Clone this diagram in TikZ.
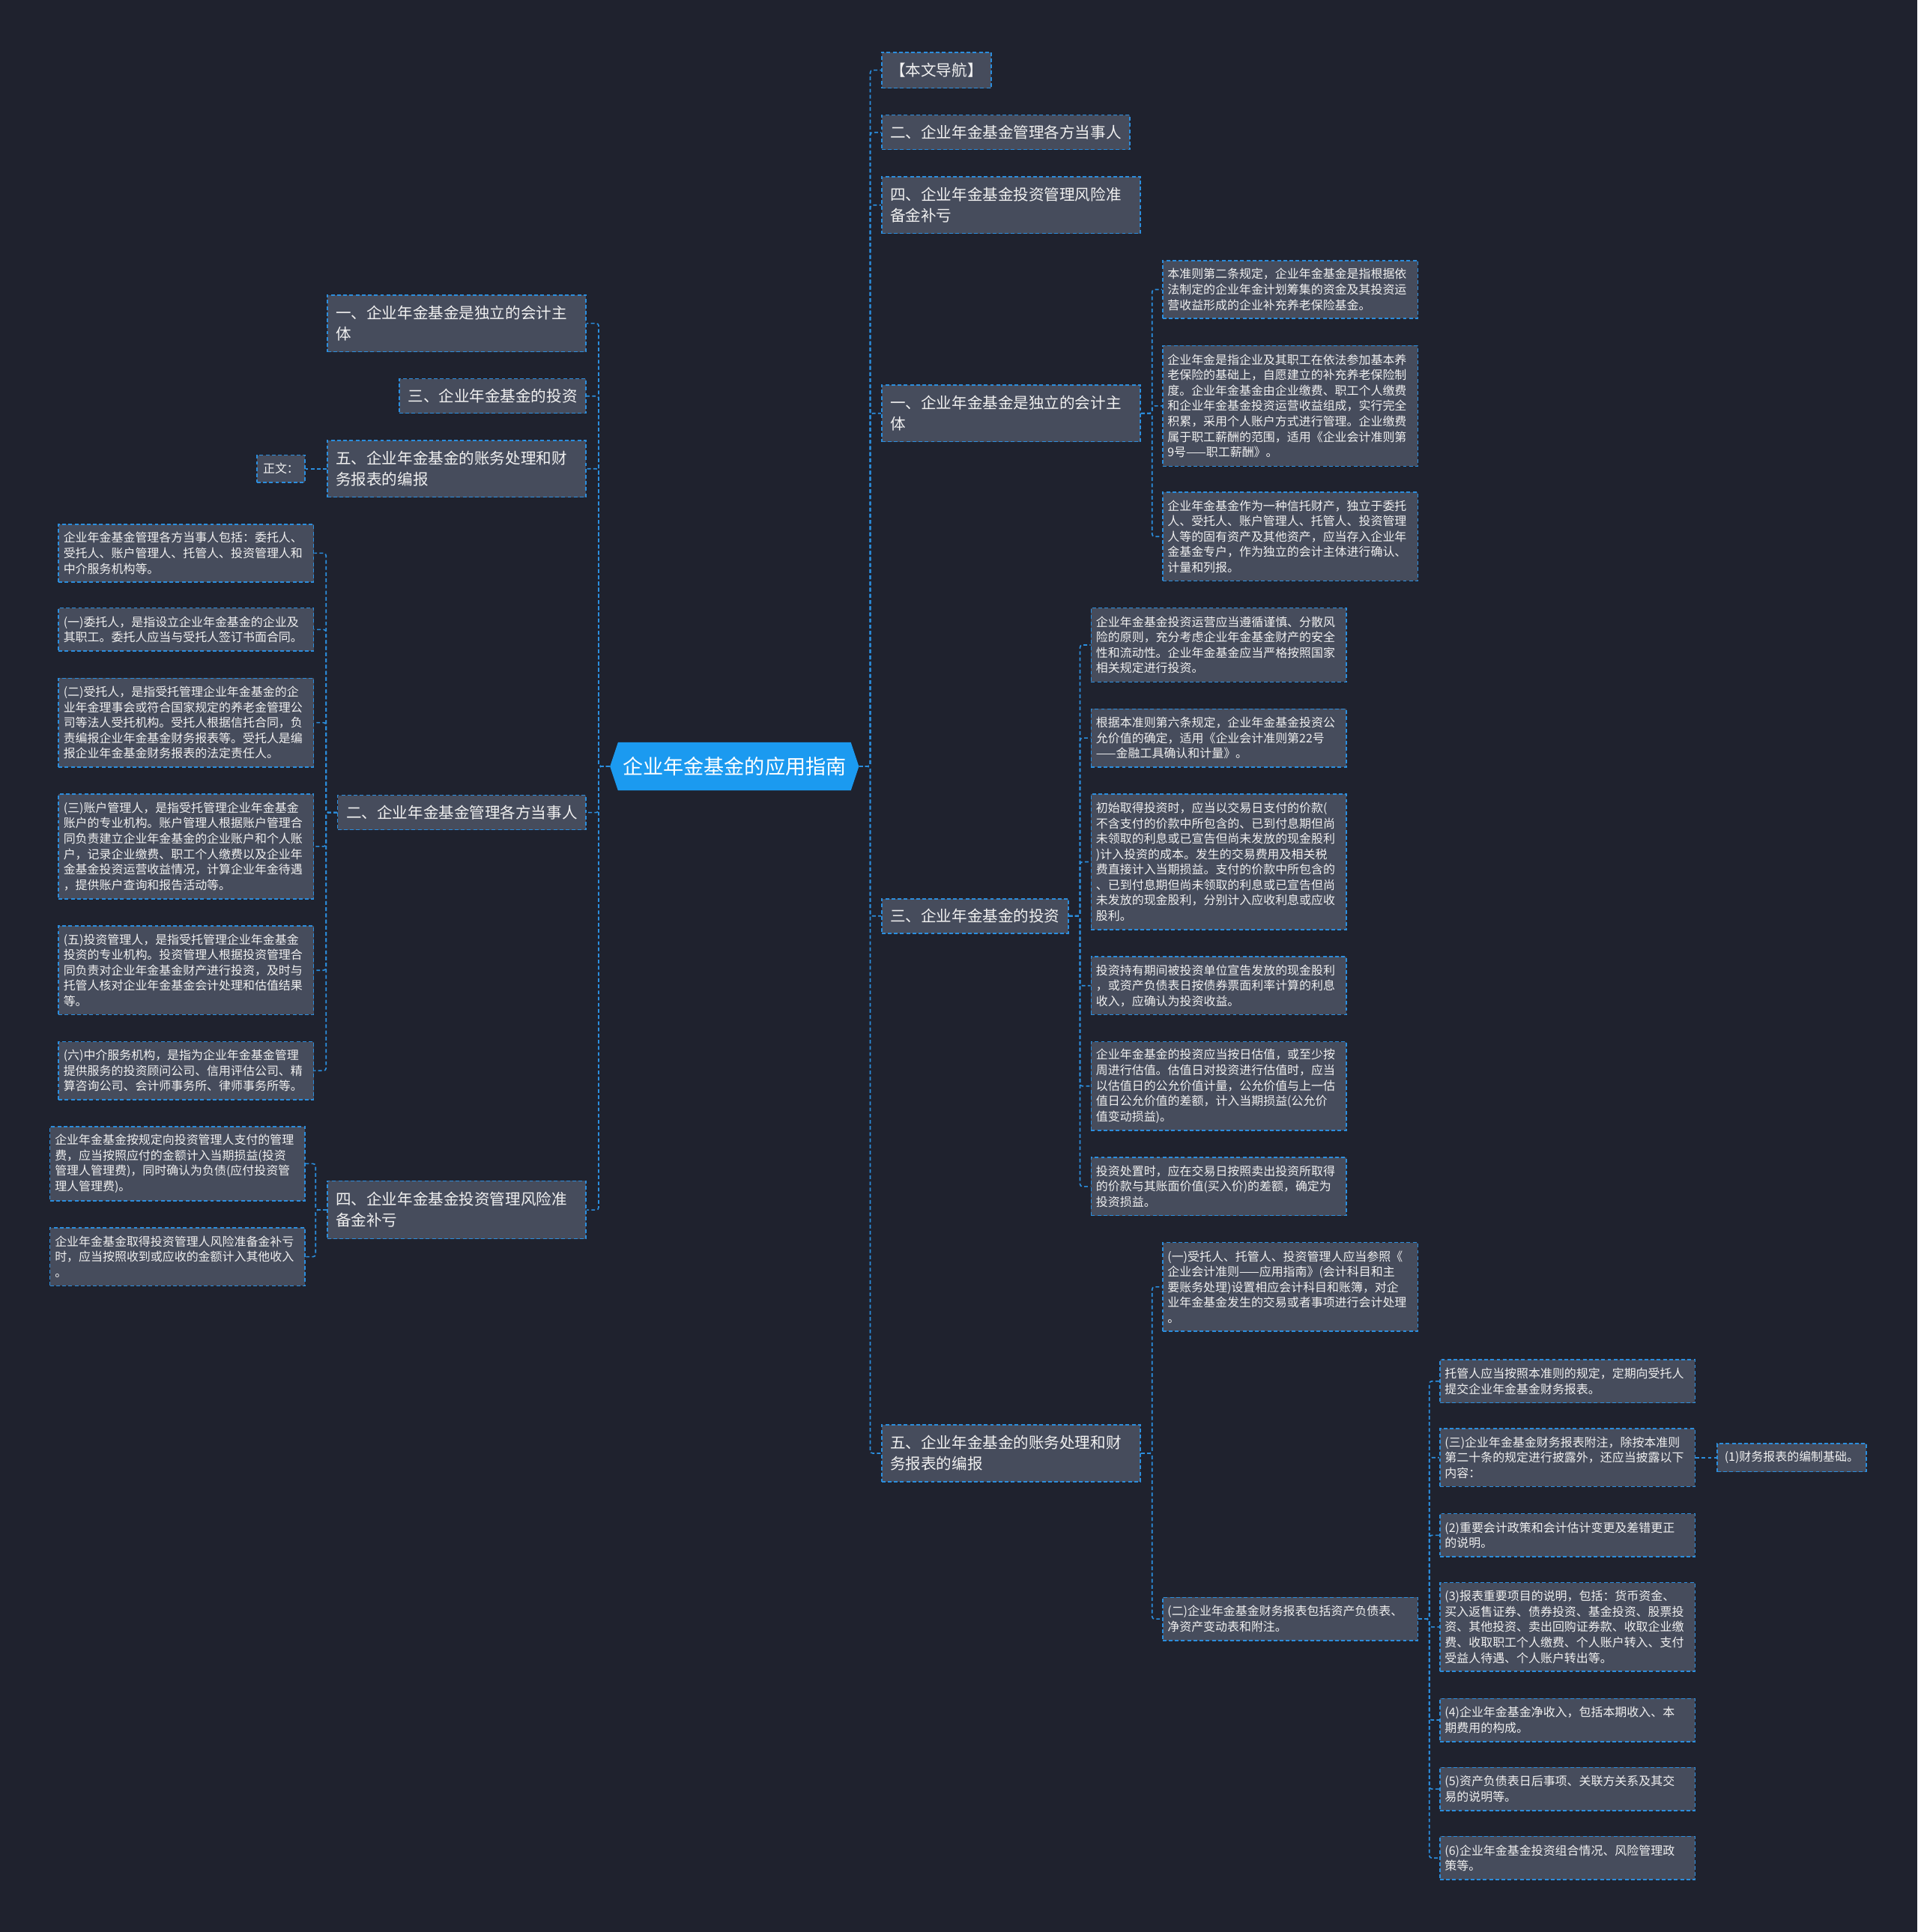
\documentclass[tikz,border=0pt]{standalone}
\usepackage{fontspec}
\setmainfont{Noto Sans CJK SC}
\setlength{\parindent}{0pt}
\definecolor{bgc}{RGB}{31,34,46}
\definecolor{nodef}{RGB}{70,76,92}
\definecolor{lineb}{RGB}{43,142,222}
\definecolor{cblue}{RGB}{27,154,240}
\definecolor{txt}{RGB}{240,240,240}
\begin{document}
\begin{tikzpicture}[x=1pt,y=-1pt,
  box/.style={draw=lineb, dash pattern=on 3pt off 2pt, line width=0.9pt, fill=nodef, text=txt, inner ysep=3pt},
  lone/.style={box, font=\fontsize{12.5}{17}\selectfont, inner xsep=7pt},
  ltwo/.style={box, font=\fontsize{12.5}{17}\selectfont, inner xsep=7pt, text width=196pt, align=left, minimum height=46pt},
  det/.style={box, font=\fontsize{9.7}{12.5}\selectfont, inner xsep=4pt, text width=199pt, align=left},
  dsingle/.style={box, font=\fontsize{9.7}{12.5}\selectfont, inner xsep=5pt},
  mh/.style={minimum height=#1},
  ctext/.style={text=white, font=\fontsize{16.5}{20}\selectfont, inner sep=0pt},
  conn/.style={draw=lineb, line width=1pt, dash pattern=on 3pt off 2pt, rounded corners=2pt}
]
\useasboundingbox (0,0) rectangle (1556,1568);
\fill[bgc] (0,0) rectangle (1556,1568);

% center
\coordinate (cc) at (596,622);
\fill[cblue] ([shift={(-101,0)}]cc) -- ([shift={(-94.5,-19.5)}]cc) -- ([shift={(94.5,-19.5)}]cc) -- ([shift={(101,0)}]cc) -- ([shift={(94.5,19.5)}]cc) -- ([shift={(-94.5,19.5)}]cc) -- cycle;
\node[ctext, minimum width=202pt, minimum height=39pt] (c) at (cc) {企业年金基金的应用指南};

% right level 1
\node[lone, anchor=north west, mh=29pt] (r0) at (715,42) {【本文导航】};
\node[lone, anchor=north west, mh=28pt] (r1) at (715,93) {二、企业年金基金管理各方当事人};
\node[ltwo, anchor=north west] (r2) at (715,143) {四、企业年金基金投资管理风险准\\备金补亏};
\node[ltwo, anchor=north west] (r3) at (715,312) {一、企业年金基金是独立的会计主\\体};
\node[lone, anchor=north west, mh=28pt] (r4) at (715,729) {三、企业年金基金的投资};
\node[ltwo, anchor=north west] (r5) at (715,1156) {五、企业年金基金的账务处理和财\\务报表的编报};

% r3 children
\node[det, anchor=north west, mh=47pt] (r3a) at (943,211) {本准则第二条规定，企业年金基金是指根据依\\法制定的企业年金计划筹集的资金及其投资运\\营收益形成的企业补充养老保险基金。};
\node[det, anchor=north west, mh=98pt] (r3b) at (943,280) {企业年金是指企业及其职工在依法参加基本养\\老保险的基础上，自愿建立的补充养老保险制\\度。企业年金基金由企业缴费、职工个人缴费\\和企业年金基金投资运营收益组成，实行完全\\积累，采用个人账户方式进行管理。企业缴费\\属于职工薪酬的范围，适用《企业会计准则第\\9号——职工薪酬》。};
\node[det, anchor=north west, mh=72pt] (r3c) at (943,399) {企业年金基金作为一种信托财产，独立于委托\\人、受托人、账户管理人、托管人、投资管理\\人等的固有资产及其他资产，应当存入企业年\\金基金专户，作为独立的会计主体进行确认、\\计量和列报。};

% r4 children
\node[det, anchor=north west, mh=60pt] (r4a) at (885,493) {企业年金基金投资运营应当遵循谨慎、分散风\\险的原则，充分考虑企业年金基金财产的安全\\性和流动性。企业年金基金应当严格按照国家\\相关规定进行投资。};
\node[det, anchor=north west, mh=47pt] (r4b) at (885,575) {根据本准则第六条规定，企业年金基金投资公\\允价值的确定，适用《企业会计准则第22号\\——金融工具确认和计量》。};
\node[det, anchor=north west, mh=110pt] (r4c) at (885,644) {初始取得投资时，应当以交易日支付的价款(\\不含支付的价款中所包含的、已到付息期但尚\\未领取的利息或已宣告但尚未发放的现金股利\\)计入投资的成本。发生的交易费用及相关税\\费直接计入当期损益。支付的价款中所包含的\\、已到付息期但尚未领取的利息或已宣告但尚\\未发放的现金股利，分别计入应收利息或应收\\股利。};
\node[det, anchor=north west, mh=47pt] (r4d) at (885,776) {投资持有期间被投资单位宣告发放的现金股利\\，或资产负债表日按债券票面利率计算的利息\\收入，应确认为投资收益。};
\node[det, anchor=north west, mh=72pt] (r4e) at (885,845) {企业年金基金的投资应当按日估值，或至少按\\周进行估值。估值日对投资进行估值时，应当\\以估值日的公允价值计量，公允价值与上一估\\值日公允价值的差额，计入当期损益(公允价\\值变动损益)。};
\node[det, anchor=north west, mh=47pt] (r4f) at (885,939) {投资处置时，应在交易日按照卖出投资所取得\\的价款与其账面价值(买入价)的差额，确定为\\投资损益。};

% r5 children
\node[det, anchor=north west, mh=72pt] (r5a) at (943,1008) {(一)受托人、托管人、投资管理人应当参照《\\企业会计准则——应用指南》(会计科目和主\\要账务处理)设置相应会计科目和账簿，对企\\业年金基金发生的交易或者事项进行会计处理\\。};
\node[det, anchor=north west, mh=35pt] (r5b) at (943,1296) {(二)企业年金基金财务报表包括资产负债表、\\净资产变动表和附注。};
\node[det, anchor=north west, mh=35pt] (r5b1) at (1168,1103) {托管人应当按照本准则的规定，定期向受托人\\提交企业年金基金财务报表。};
\node[det, anchor=north west, mh=47pt] (r5b2) at (1168,1159) {(三)企业年金基金财务报表附注，除按本准则\\第二十条的规定进行披露外，还应当披露以下\\内容：};
\node[dsingle, anchor=north west, mh=23pt, minimum width=121pt] (r5b2a) at (1393,1171) {(1)财务报表的编制基础。};
\node[det, anchor=north west, mh=35pt] (r5b3) at (1168,1228) {(2)重要会计政策和会计估计变更及差错更正\\的说明。};
\node[det, anchor=north west, mh=72pt] (r5b4) at (1168,1284) {(3)报表重要项目的说明，包括：货币资金、\\买入返售证券、债券投资、基金投资、股票投\\资、其他投资、卖出回购证券款、收取企业缴\\费、收取职工个人缴费、个人账户转入、支付\\受益人待遇、个人账户转出等。};
\node[det, anchor=north west, mh=35pt] (r5b5) at (1168,1378) {(4)企业年金基金净收入，包括本期收入、本\\期费用的构成。};
\node[det, anchor=north west, mh=35pt] (r5b6) at (1168,1434) {(5)资产负债表日后事项、关联方关系及其交\\易的说明等。};
\node[det, anchor=north west, mh=35pt] (r5b7) at (1168,1490) {(6)企业年金基金投资组合情况、风险管理政\\策等。};

% left level 1
\node[ltwo, anchor=north east] (l1) at (476,239) {一、企业年金基金是独立的会计主\\体};
\node[lone, anchor=north east, mh=28pt] (l2) at (476,307) {三、企业年金基金的投资};
\node[ltwo, anchor=north east] (l3) at (476,357) {五、企业年金基金的账务处理和财\\务报表的编报};
\node[dsingle, anchor=north east, mh=22pt] (l3a) at (248,369) {正文：};
\node[lone, anchor=north east, mh=28pt] (l4) at (476,645) {二、企业年金基金管理各方当事人};
\node[ltwo, anchor=north east, mh=47pt] (l5) at (476,958) {四、企业年金基金投资管理风险准\\备金补亏};

% l4 children
\node[det, anchor=north east, mh=47pt] (l4a) at (255,425) {企业年金基金管理各方当事人包括：委托人、\\受托人、账户管理人、托管人、投资管理人和\\中介服务机构等。};
\node[det, anchor=north east, mh=35pt] (l4b) at (255,493) {(一)委托人，是指设立企业年金基金的企业及\\其职工。委托人应当与受托人签订书面合同。};
\node[det, anchor=north east, mh=72pt] (l4c) at (255,550) {(二)受托人，是指受托管理企业年金基金的企\\业年金理事会或符合国家规定的养老金管理公\\司等法人受托机构。受托人根据信托合同，负\\责编报企业年金基金财务报表等。受托人是编\\报企业年金基金财务报表的法定责任人。};
\node[det, anchor=north east, mh=85pt] (l4d) at (255,644) {(三)账户管理人，是指受托管理企业年金基金\\账户的专业机构。账户管理人根据账户管理合\\同负责建立企业年金基金的企业账户和个人账\\户，记录企业缴费、职工个人缴费以及企业年\\金基金投资运营收益情况，计算企业年金待遇\\，提供账户查询和报告活动等。};
\node[det, anchor=north east, mh=72pt] (l4e) at (255,751) {(五)投资管理人，是指受托管理企业年金基金\\投资的专业机构。投资管理人根据投资管理合\\同负责对企业年金基金财产进行投资，及时与\\托管人核对企业年金基金会计处理和估值结果\\等。};
\node[det, anchor=north east, mh=47pt] (l4f) at (255,845) {(六)中介服务机构，是指为企业年金基金管理\\提供服务的投资顾问公司、信用评估公司、精\\算咨询公司、会计师事务所、律师事务所等。};

% l5 children
\node[det, anchor=north east, mh=60pt] (l5a) at (248,914) {企业年金基金按规定向投资管理人支付的管理\\费，应当按照应付的金额计入当期损益(投资\\管理人管理费)，同时确认为负债(应付投资管\\理人管理费)。};
\node[det, anchor=north east, mh=47pt] (l5b) at (248,996) {企业年金基金取得投资管理人风险准备金补亏\\时，应当按照收到或应收的金额计入其他收入\\。};

% connectors
\foreach \n in {r0,r1,r2,r3,r4,r5} \draw[conn] (c.east) -- ++(9,0) |- (\n.west);
\foreach \n in {l1,l2,l3,l4,l5} \draw[conn] (c.west) -- ++(-9,0) |- (\n.east);
\foreach \n in {r3a,r3b,r3c} \draw[conn] (r3.east) -- ++(9,0) |- (\n.west);
\foreach \n in {r4a,r4b,r4c,r4d,r4e,r4f} \draw[conn] (r4.east) -- ++(9,0) |- (\n.west);
\foreach \n in {r5a,r5b} \draw[conn] (r5.east) -- ++(9,0) |- (\n.west);
\foreach \n in {r5b1,r5b2,r5b3,r5b4,r5b5,r5b6,r5b7} \draw[conn] (r5b.east) -- ++(9,0) |- (\n.west);
\draw[conn] (r5b2.east) -- (r5b2a.west);
\draw[conn] (l3.west) -- (l3a.east);
\foreach \n in {l4a,l4b,l4c,l4d,l4e,l4f} \draw[conn] (l4.west) -- ++(-9,0) |- (\n.east);
\foreach \n in {l5a,l5b} \draw[conn] (l5.west) -- ++(-9,0) |- (\n.east);
\end{tikzpicture}
\end{document}
